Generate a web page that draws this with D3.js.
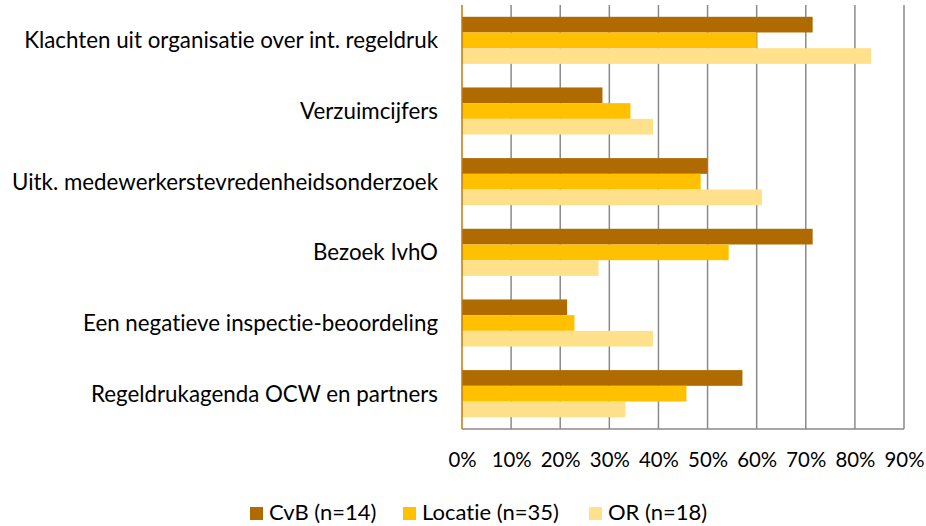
<!DOCTYPE html>
<html>
<head>
<meta charset="utf-8">
<script src="https://cdn.jsdelivr.net/npm/d3@7"></script>
<style>
  html, body { margin: 0; padding: 0; background: #fff; }
  svg { display: block; }
  text { font-family: Lato, "Open Sans", sans-serif; fill: #000;
         font-variant-ligatures: none; font-feature-settings: "liga" 0, "clig" 0; }
</style>
</head>
<body>
<svg id="chart" width="926" height="526"></svg>
<script>
// Categories, top to bottom
const categories = [
  "Klachten uit organisatie over int. regeldruk",
  "Verzuimcijfers",
  "Uitk. medewerkerstevredenheidsonderzoek",
  "Bezoek IvhO",
  "Een negatieve inspectie-beoordeling",
  "Regeldrukagenda OCW en partners"
];

// Series (percentages)
const seriesNames = ["CvB (n=14)", "Locatie (n=35)", "OR (n=18)"];
const cvb     = [71.4, 28.6, 50.0, 71.4, 21.4, 57.1];
const locatie = [60.0, 34.3, 48.6, 54.3, 22.9, 45.7];
const or      = [83.3, 38.9, 61.1, 27.8, 38.9, 33.3];
const seriesValues = [cvb, locatie, or];
const seriesColors = ["#AF6A00", "#FFC000", "#FFE18C"];

// Axis ticks
const tickValues = [0, 10, 20, 30, 40, 50, 60, 70, 80, 90];
const tickLabels = tickValues.map(v => v + "%");

const svg = d3.select("#chart");

const plot = { left: 462, right: 904, top: 5, bottom: 429 };

const x = d3.scaleLinear().domain([0, 90]).range([plot.left, plot.right]);
const y = d3.scaleBand().domain(categories).range([plot.top, plot.bottom])
  .paddingInner(1 / 3).paddingOuter(1 / 6);
const ySub = d3.scaleBand().domain(seriesNames).range([0, y.bandwidth()]);

// Fit a font size so a string spans a given width
function fitSize(str, targetWidth, base) {
  const t = svg.append("text").attr("font-size", base).text(str);
  const w = t.node().getComputedTextLength();
  t.remove();
  return base * targetWidth / w;
}

// Vertical gridlines
svg.append("g").selectAll("line")
  .data(tickValues.slice(1))
  .join("line")
  .attr("x1", d => x(d)).attr("x2", d => x(d))
  .attr("y1", plot.top).attr("y2", plot.bottom)
  .attr("stroke", "#8A8A8A").attr("stroke-width", 1.5);

// Bars
const groups = svg.append("g").selectAll("g")
  .data(categories)
  .join("g")
  .attr("transform", d => `translate(0,${y(d)})`);

groups.selectAll("rect")
  .data((c, i) => seriesNames.map((s, j) => ({ s, v: seriesValues[j][i], color: seriesColors[j] })))
  .join("rect")
  .attr("x", x(0))
  .attr("y", d => ySub(d.s))
  .attr("width", d => x(d.v) - x(0))
  .attr("height", ySub.bandwidth())
  .attr("fill", d => d.color);

// Bottom axis line
svg.append("line")
  .attr("x1", plot.left).attr("x2", plot.right)
  .attr("y1", plot.bottom).attr("y2", plot.bottom)
  .attr("stroke", "#8A8A8A").attr("stroke-width", 1.5);

// Left axis line
svg.append("line")
  .attr("x1", plot.left).attr("x2", plot.left)
  .attr("y1", plot.top).attr("y2", plot.bottom)
  .attr("stroke", "#C27A0E").attr("stroke-width", 1.5);

// Tick labels
const tickSize = fitSize("90%", 40, 20);
const xAxis = d3.axisBottom(x)
  .tickValues(tickValues)
  .tickFormat((d, i) => tickLabels[i])
  .tickSize(0)
  .tickPadding(0);
const axisG = svg.append("g")
  .attr("transform", `translate(0,${plot.bottom})`)
  .call(xAxis);
axisG.select(".domain").remove();
axisG.selectAll("text")
  .attr("font-family", "Lato, 'Open Sans', sans-serif")
  .attr("font-size", tickSize)
  .attr("fill", "#000")
  .attr("dy", null)
  .attr("y", 38);

// Category labels
const catSize = fitSize(categories[0], 414, 20);
svg.append("g").selectAll("text")
  .data(categories)
  .join("text")
  .attr("x", 438)
  .attr("y", d => y(d) + y.bandwidth() / 2 + catSize * 0.36)
  .attr("text-anchor", "end")
  .attr("font-size", catSize)
  .text(d => d);

// Legend
const legSize = fitSize(seriesNames[1], 137, 20);
const legendX = [250, 403, 589];
const legend = svg.append("g").selectAll("g")
  .data(seriesNames)
  .join("g")
  .attr("transform", (d, i) => `translate(${legendX[i]},0)`);
legend.append("rect")
  .attr("x", 0).attr("y", 507)
  .attr("width", 13).attr("height", 13)
  .attr("fill", (d, i) => seriesColors[i]);
legend.append("text")
  .attr("x", 19).attr("y", 520)
  .attr("font-size", legSize)
  .text(d => d);
</script>
</body>
</html>
